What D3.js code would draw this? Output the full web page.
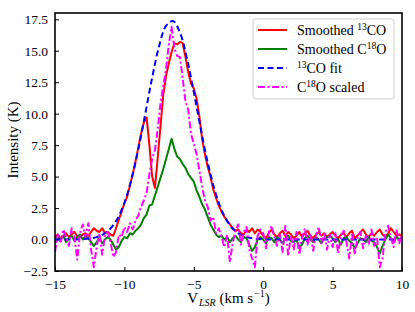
<!DOCTYPE html>
<meta charset="utf-8">
<style>
body { margin: 0; background: #fff; }
.line { fill: none; stroke-width: 2; stroke-linejoin: round; }
</style>
<svg width="415" height="312"></svg>
<script src="https://d3js.org/d3.v7.min.js"></script>
<script>

// velocity grid of the smoothed spectra (km/s), 0.2 km/s steps
var velocity = d3.range(126).map(function(i) { return +(-15 + 0.2 * i).toFixed(1); });

var smoothed13CO = [
  0.2, 0.4, 0.1, 0.3, 0.5,   0.2, 0.4, 0.6, 0.3, 0.2,
  0.4, 0.5, 0.3, 0.6, 0.9,   0.7, 0.6, 0.9, 0.5, 0.6,
  0.4, 0.3, 0.9, 1.6, 2.2,   2.9, 3.4, 4.3, 5.2, 6.2,
  7.3, 8.4, 9.3, 9.7, 7.5,   5.0, 4.1, 6.5, 9.0, 11.5,
  13.0, 14.0, 14.9, 15.6, 15.5,   15.7, 15.6, 14.5, 13.3, 12.4,
  12.0, 11.2, 9.8, 8.0, 6.8,   5.8, 5.0, 4.0, 3.3, 2.7,
  2.2, 1.8, 1.5, 1.2, 0.9,   0.7, 0.8, 0.5, 0.4, 0.8,
  0.6, 0.9, 0.5, 0.8, 0.6,   0.3, 0.1, 0.5, 0.8, 0.4,
  0.2, 0.5, 0.7, 0.3, 0.6,   0.4, 0.1, 0.3, 0.6, 0.2,
  0.5, 0.7, 0.3, 0.1, 0.4,   0.6, 0.3, 0.5, 0.2, 0.4,
  0.6, 0.3, 0.1, 0.4, 0.5,   0.2, 0.5, 0.7, 0.1, 0.3,
  0.6, 0.8, 0.4, 0.2, 0.5,   0.3, 0.6, 0.8, 0.4, 0.2,
  0.5, 0.9, 0.6, 0.3, 0.4,   0.3
];

var smoothedC18O = [
  -0.3, 0.2, 0.0, 0.3, -0.2,   0.1, 0.3, -0.1, 0.2, 0.4,
  0.0, 0.3, 0.1, -0.2, -0.5,   -0.2, 0.1, -0.3, 0.0, 0.2,
  0.0, -0.4, -0.8, -0.6, -0.1,   0.2, 0.1, 0.5, 0.4, 0.7,
  0.9, 1.2, 1.7, 2.0, 2.7,   2.8, 3.5, 4.2, 4.9, 5.6,
  6.4, 7.2, 8.0, 7.2, 6.6,   6.4, 6.0, 5.7, 5.2, 4.9,
  4.6, 3.9, 3.4, 2.8, 2.4,   1.8, 1.2, 0.8, 0.4, 0.2,
  0.3, 0.0, 0.2, -0.2, 0.1,   0.3, 0.0, -0.2, 0.2, 0.1,
  -0.4, -0.9, -0.6, 0.0, 0.2,   0.0, -0.3, 0.2, 0.1, -0.2,
  0.2, 0.0, -0.3, 0.1, 0.3,   -0.1, -0.2, 0.0, -0.6, -0.4,
  0.1, 0.3, 0.0, -0.2, 0.2,   0.0, -0.3, 0.1, 0.2, 0.3,
  0.1, -0.2, 0.0, -0.4, 0.1,   0.2, -0.1, -0.3, -0.7, -0.3,
  0.1, 0.0, -0.2, 0.2, -0.1,   -0.2, -0.6, -1.1, -0.5, 0.0,
  0.4, 0.1, -0.2, 0.2, 0.0,   0.1
];

var scaledC18O = [
  -1.0, 0.4, -0.3, 0.8, 0.2,   -0.5, 0.9, 0.3, -1.6, 0.5,
  1.2, 0.2, 1.3, -0.8, -2.2,   -0.6, 0.5, -1.2, 0.3, 0.6,
  -0.2, -1.4, -1.0, 0.4, 0.2,   1.0, 0.6, 1.3, 0.8, 1.5,
  1.9, 2.6, 3.1, 3.7, 5.2,   6.4, 7.1, 8.8, 10.8, 12.2,
  13.6, 15.5, 16.9, 15.2, 14.6,   14.5, 12.8, 11.0, 10.3, 8.4,
  7.6, 6.8, 5.5, 4.2, 3.1,   2.6, 1.5, 1.8, 0.5, 0.9,
  0.2, -0.6, 0.4, -1.8, -0.3,   0.7, 1.2, -0.4, 0.6, 1.0,
  -0.8, -1.5, -2.2, 0.3, 0.8,   0.5, -0.7, 0.6, 1.1, 0.2,
  -0.5, 0.4, -1.0, 1.1, -1.3,   0.3, -0.8, 0.6, -1.2, 0.1,
  0.9, -0.4, 0.5, -0.9, 0.3,   1.0, -0.3, 0.6, -0.8, 0.4,
  -0.6, 0.5, -1.1, 0.3, 0.7,   -0.2, -1.5, 0.4, -1.2, 0.2,
  0.6, -0.7, 0.3, -0.4, 0.8,   -0.5, 0.2, -2.2, -1.5, 0.6,
  1.1, 0.2, -0.6, 0.8, -0.3,   0.5
];

// fitted 13CO profile, read at 0.5 km/s
var fitVelocity = d3.range(51).map(function(i) { return -15 + 0.5 * i; });
var fit13CO = [
  0.0, 0.0, 0.0, 0.01, 0.03, 0.08, 0.19, 0.43, 0.88, 1.66,
  2.92, 4.75, 7.15, 9.97, 12.86, 15.36, 16.98, 17.37, 16.46, 14.43,
  11.72, 8.81, 6.13, 3.95, 2.35, 1.30, 0.66, 0.31, 0.14, 0.06,
  0.02, 0.0, 0.0, 0.0, 0.0, 0.0, 0.0, 0.0, 0.0, 0.0,
  0.0, 0.0, 0.0, 0.0, 0.0, 0.0, 0.0, 0.0, 0.0, 0.0, 0.0
];

var xTicks = [-15, -10, -5, 0, 5, 10];
var yTicks = [-2.5, 0, 2.5, 5, 7.5, 10, 12.5, 15, 17.5];

var FONT = "'Liberation Serif', 'Times New Roman', serif";
var FS = 13.5, SUP = 9.5;

var svg = d3.select("svg");
var margin = {left: 55, right: 13, top: 13, bottom: 41};
var width = 415 - margin.left - margin.right,
    height = 312 - margin.top - margin.bottom;

var x = d3.scaleLinear().domain([-15, 10]).range([0, width]);
var y = d3.scaleLinear().domain([-2.5, 18]).range([height, 0]);

var g = svg.append("g").attr("transform", "translate(" + margin.left + "," + margin.top + ")");

g.append("clipPath").attr("id", "clip")
  .append("rect").attr("width", width).attr("height", height);

var fmt = function(d) { return d3.format(".1f")(d).replace("-", "\u2212"); };
var fmtX = function(d) { return String(d).replace("-", "\u2212"); };

var xAxis = g.append("g").attr("transform", "translate(0," + height + ")")
  .call(d3.axisBottom(x).tickValues(xTicks).tickSizeInner(-4).tickSizeOuter(0).tickPadding(8).tickFormat(fmtX));
var yAxis = g.append("g")
  .call(d3.axisLeft(y).tickValues(yTicks).tickSizeInner(-4).tickSizeOuter(0).tickPadding(7).tickFormat(fmt));

[xAxis, yAxis].forEach(function(a) {
  a.select(".domain").remove();
  a.selectAll("line").attr("stroke", "#000").attr("stroke-width", 1);
  a.selectAll("text").style("font-family", FONT).style("font-size", FS + "px").attr("fill", "#000");
});
xAxis.selectAll("text").attr("dy", "0.75em");

var series = [
  {xs: velocity, ys: smoothed13CO, color: "#ff0000", dash: null},
  {xs: velocity, ys: smoothedC18O, color: "#008000", dash: null},
  {xs: fitVelocity, ys: fit13CO, color: "#0000ff", dash: "6,3.5", curve: d3.curveCatmullRom},
  {xs: velocity, ys: scaledC18O, color: "#ff00ff", dash: "7,2.5,2,2.5"}
];

var plot = g.append("g").attr("clip-path", "url(#clip)");

series.forEach(function(s) {
  var line = d3.line()
    .x(function(d, i) { return x(s.xs[i]); })
    .y(function(d) { return y(d); })
    .curve(s.curve || d3.curveLinear);
  plot.append("path")
    .datum(s.ys)
    .attr("class", "line")
    .attr("stroke", s.color)
    .attr("stroke-dasharray", s.dash)
    .attr("d", line);
});

g.append("rect")
  .attr("width", width).attr("height", height)
  .attr("fill", "none").attr("stroke", "#000").attr("stroke-width", 1.6);

// axis labels
var xl = g.append("text")
  .attr("x", width / 2).attr("y", height + 32)
  .attr("text-anchor", "middle")
  .style("font-family", FONT).style("font-size", "15px");
xl.append("tspan").text("V");
xl.append("tspan").attr("dx", 1).style("font-size", "10px").attr("font-style", "italic").attr("baseline-shift", -3).text("LSR");
xl.append("tspan").text(" (km s");
xl.append("tspan").attr("dx", 1).style("font-size", "10px").attr("baseline-shift", 6).text("\u22121");
xl.append("tspan").text(")");

g.append("text")
  .attr("transform", "translate(" + (18 - margin.left) + "," + (height / 2 - 2) + ") rotate(-90)")
  .attr("text-anchor", "middle")
  .style("font-family", FONT).style("font-size", "15px")
  .text("Intensity (K)");

// legend
var legendItems = [
  {color: "#ff0000", dash: null, parts: [["Smoothed ", 0], ["13", 1], ["CO", 0]]},
  {color: "#008000", dash: null, parts: [["Smoothed C", 0], ["18", 1], ["O", 0]]},
  {color: "#0000ff", dash: "6,3.5", parts: [["13", 1], ["CO fit", 0]]},
  {color: "#ff00ff", dash: "7,2.5,2,2.5", parts: [["C", 0], ["18", 1], ["O scaled", 0]]}
];

var lg = svg.append("g").attr("transform", "translate(253,19)");
lg.append("rect")
  .attr("width", 141).attr("height", 80).attr("rx", 3)
  .attr("fill", "#fff").attr("fill-opacity", 0.8)
  .attr("stroke", "#d0d0d0").attr("stroke-width", 1);

legendItems.forEach(function(it, i) {
  var yy = 11 + i * 19;
  lg.append("line")
    .attr("x1", 5).attr("x2", 34).attr("y1", yy).attr("y2", yy)
    .attr("stroke", it.color).attr("stroke-width", 2)
    .attr("stroke-dasharray", it.dash);
  var t = lg.append("text").attr("x", 44).attr("y", yy + 5)
    .style("font-family", FONT).style("font-size", "14px");
  it.parts.forEach(function(p) {
    var ts = t.append("tspan").text(p[0]);
    if (p[1]) ts.style("font-size", SUP + "px").attr("baseline-shift", 5);
  });
});

</script>
